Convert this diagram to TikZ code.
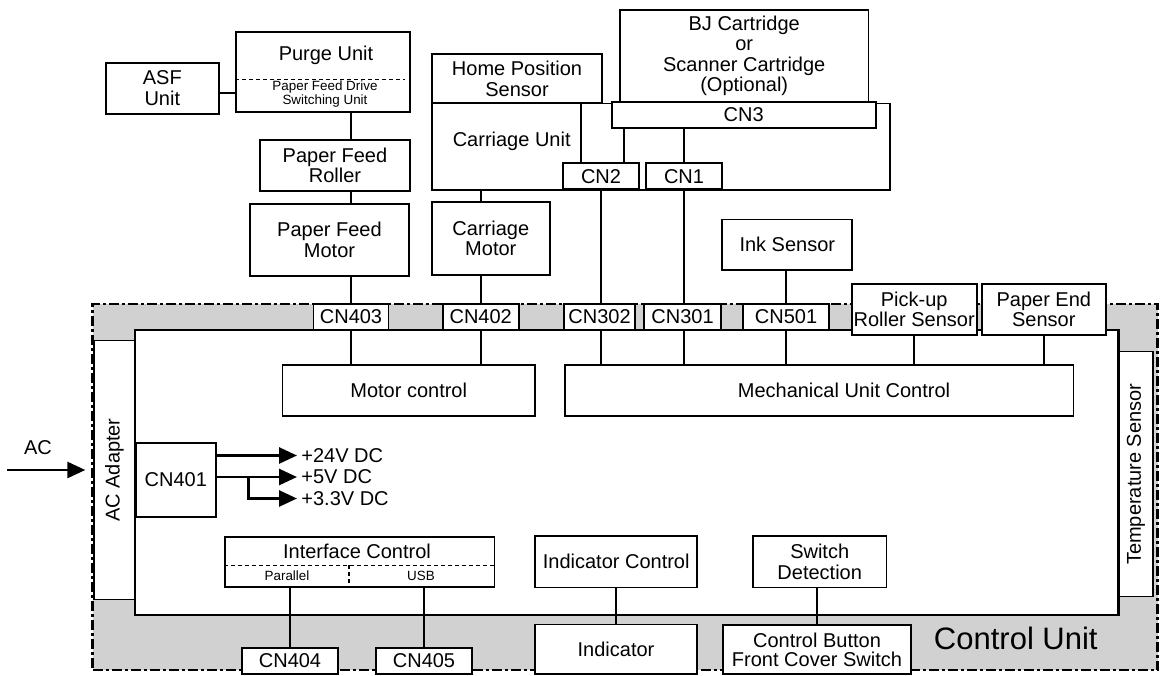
\documentclass[tikz,border=0pt]{standalone}
\usepackage{fontspec}
\setmainfont{Liberation Sans}
\usepackage{xcolor}
\usepackage{tikz}
\usetikzlibrary{arrows.meta,positioning,calc}
\definecolor{bandgray}{RGB}{209,209,209}
\newcommand{\bxfont}{\fontsize{10}{10.2}\selectfont}
\newcommand{\smfont}{\fontsize{6.7}{7}\selectfont}
\newcommand{\lgfont}{\fontsize{15.5}{18}\selectfont}
\tikzset{
  blk/.style={
    draw,
    fill=white,
    line width=0.9pt,
    align=center,
    inner sep=1pt,
    font=\bxfont
  },
  thinblk/.style={
    blk,
    line width=0.7pt
  },
  band/.style={
    draw,
    fill=bandgray,
    line width=1.4pt,
    dash pattern=on 5pt off 1.5pt on 1.5pt off 1.5pt
  },
  board/.style={
    draw,
    fill=white,
    line width=1.4pt
  },
  lbl/.style={font=\bxfont, inner sep=1pt, align=center},
  wire/.style={line width=1pt},
  sepline/.style={line width=0.7pt, dash pattern=on 2pt off 1.5pt},
  pwr/.style={line width=1.4pt, -{Triangle[length=9pt,width=8pt]}}
}

\begin{document}
\begin{tikzpicture}[x=0.5pt, y=-0.5pt]
  \useasboundingbox (0,0) rectangle (1161,675);

  % control unit frame and board
  \node[band, minimum width=532.5pt, minimum height=183pt] (cu) at (625.2,487) {};
  \node[board, minimum width=491.7pt, minimum height=142.5pt] (pcb) at (626.7,472.5) {};
  \node[thinblk, rotate=90, minimum width=129.3pt, minimum height=20.5pt] (acad) at (114.5,470) {AC Adapter};
  \node[thinblk, rotate=90, minimum width=122.5pt, minimum height=17pt] (temp) at (1136,474.2) {Temperature Sensor};
  \node[font=\lgfont] (cutxt) at (1015.8,638.3) {Control Unit};

  % paper feed side
  \node[blk, minimum width=56.7pt, minimum height=25.5pt] (asf) at (162.3,88.2) {ASF\\Unit};
  \node[blk, minimum width=87pt, minimum height=40pt] (purge) at (323,72) {};
  \node[lbl] (purgetxt) at (326,55) {Purge Unit};
  \node[lbl, font=\smfont] (pfdsw) at (325,94.3) {Paper Feed Drive\\Switching Unit};
  \node[blk, minimum width=75pt, minimum height=25.3pt] (roller) at (335,165.3) {Paper Feed\\Roller};
  \node[blk, minimum width=79.5pt, minimum height=36.2pt] (pfm) at (329.5,239.8) {Paper Feed\\Motor};

  % carriage side
  \node[blk, minimum width=229.2pt, minimum height=43.3pt] (carr) at (660.8,146.7) {};
  \node[lbl] (carrtxt) at (511.7,141.7) {Carriage Unit};
  \node[blk, minimum width=85.3pt, minimum height=24.5pt] (hps) at (517,78.8) {Home Position\\Sensor};
  \node[blk, minimum width=124.2pt, minimum height=45.8pt] (bj) at (744.2,55.8) {BJ Cartridge\\or\\Scanner Cartridge\\(Optional)};
  \node[blk, minimum width=132pt, minimum height=13pt] (cn3) at (743.7,114.7) {CN3};
  \node[blk, minimum width=38.2pt, minimum height=13pt] (cn2) at (601,176.3) {CN2};
  \node[blk, minimum width=37.8pt, minimum height=13pt] (cn1) at (684,176.3) {CN1};
  \node[blk, minimum width=59.2pt, minimum height=36.7pt] (cmot) at (490.8,238.3) {Carriage\\Motor};
  \node[blk, minimum width=65pt, minimum height=25.3pt] (ink) at (787.3,244.7) {Ink Sensor};

  % connectors on the top edge
  \node[blk, minimum width=37.5pt, minimum height=13pt] (cn403) at (351,317) {CN403};
  \node[blk, minimum width=38pt, minimum height=13pt] (cn402) at (480.7,317) {CN402};
  \node[blk, minimum width=35.8pt, minimum height=13pt] (cn302) at (599.5,317) {CN302};
  \node[blk, minimum width=38.2pt, minimum height=13pt] (cn301) at (682.5,317) {CN301};
  \node[blk, minimum width=43.3pt, minimum height=13pt] (cn501) at (786,317) {CN501};
  \node[blk, minimum width=62.5pt, minimum height=25.5pt] (pick) at (914.2,309.5) {Pick-up\\Roller Sensor};
  \node[blk, minimum width=62.2pt, minimum height=25.5pt] (pend) at (1043.8,309.5) {Paper End\\Sensor};

  % blocks on the board
  \node[blk, minimum width=126.3pt, minimum height=25.5pt] (mctl) at (408.7,390.5) {Motor control};
  \node[blk, minimum width=254.2pt, minimum height=25.5pt] (mech) at (819.2,390.5) {};
  \node[lbl] (mechtxt) at (844,390.5) {Mechanical Unit Control};
  \node[blk, minimum width=39.8pt, minimum height=37pt] (cn401) at (175.8,479.7) {CN401};
  \node[blk, minimum width=134.7pt, minimum height=25pt] (ifc) at (359.7,561.7) {};
  \node[lbl] (ifctxt) at (357,551.5) {Interface Control};
  \node[lbl, font=\smfont] (partxt) at (287,576) {Parallel};
  \node[lbl, font=\smfont] (usbtxt) at (421,576) {USB};
  \node[blk, minimum width=81pt, minimum height=25.7pt] (ictl) at (616.2,561.7) {Indicator Control};
  \node[blk, minimum width=66.7pt, minimum height=25.7pt] (swd) at (819.7,561.7) {Switch\\Detection};

  % parts on the bottom edge
  \node[blk, minimum width=48.3pt, minimum height=13.2pt] (cn404) at (290,660.8) {CN404};
  \node[blk, minimum width=48pt, minimum height=13.2pt] (cn405) at (424,660.8) {CN405};
  \node[blk, minimum width=81pt, minimum height=24.8pt] (ind) at (616,649.2) {Indicator};
  \node[blk, minimum width=94pt, minimum height=24.5pt, font=\fontsize{10}{9.5}\selectfont] (cbtn) at (817,649.5) {Control Button\\Front Cover Switch};

  % dashed dividers
  \coordinate (purgew) at ($(purge.north west)!0.59!(purge.south west)$);
  \draw[sepline, shorten >=3pt] (purgew) -- (purgew -| purge.east);
  \coordinate (ifcw) at ($(ifc.north west)!0.57!(ifc.south west)$);
  \coordinate (ifcm) at ($(ifcw)!0.46!(ifcw -| ifc.east)$);
  \draw[sepline] (ifcw) -- (ifcw -| ifc.east);
  \draw[sepline] (ifcm) -- (ifcm |- ifc.south);

  % wiring
  \coordinate (asfj) at ($(asf.north east)!0.6!(asf.south east)$);
  \draw[wire] (asfj) -- (asfj -| purge.west);
  \draw[wire] (purge.south -| cn403) -- (roller.north -| cn403);
  \draw[wire] (roller.south -| cn403) -- (pfm.north -| cn403);
  \draw[wire] (pfm.south -| cn403) -- (cn403.north);
  \draw[wire] (carr.south -| cn402) -- (cmot.north -| cn402);
  \draw[wire] (cmot.south -| cn402) -- (cn402.north);
  \coordinate (cn2a) at ($(cn2.north west)!0.25!(cn2.north east)$);
  \coordinate (cn2b) at ($(cn2.north west)!0.79!(cn2.north east)$);
  \draw[wire] (cn2a) -- (cn2a |- hps.south);
  \draw[wire] (cn2b) -- (cn2b |- cn3.south);
  \draw[wire] (cn1.north) -- (cn1.north |- cn3.south);
  \draw[wire] (cn2.south) -- (cn2.south |- cn302.north);
  \draw[wire] (cn1.south) -- (cn1.south |- cn301.north);
  \draw[wire] (ink.south -| cn501) -- (cn501.north);
  \draw[wire] (cn403.south) -- (cn403.south |- mctl.north);
  \draw[wire] (cn402.south) -- (cn402.south |- mctl.north);
  \draw[wire] (cn302.south -| cn2) -- (cn2 |- mech.north);
  \draw[wire] (cn301.south -| cn1) -- (cn1 |- mech.north);
  \draw[wire] (cn501.south) -- (cn501.south |- mech.north);
  \draw[wire] (pick.south) -- (pick.south |- mech.north);
  \draw[wire] (pend.south) -- (pend.south |- mech.north);
  \draw[wire] (ifc.south -| cn404) -- (cn404.north);
  \draw[wire] (ifc.south -| cn405) -- (cn405.north);
  \draw[wire] (ictl.south -| ind) -- (ind.north);
  \draw[wire] (swd.south -| cbtn) -- (cbtn.north);

  % power supply
  \node[lbl, anchor=west, inner sep=2pt] (v24) at (297,455.5) {+24V DC};
  \node[lbl, anchor=west, inner sep=2pt] (v5) at (297,477) {+5V DC};
  \node[lbl, anchor=west, inner sep=2pt] (v33) at (297,498.5) {+3.3V DC};
  \draw[pwr] (cn401.east |- v24.west) -- (v24.west);
  \draw[pwr] (cn401.east |- v5.west) -- (v5.west);
  \coordinate (tap) at ($(cn401.east |- v5.west)!0.4!(v5.west)$);
  \draw[pwr] (tap) -- (tap |- v33.west) -- (v33.west);
  \node[lbl] (aclbl) at (38,448) {AC};
  \coordinate (acin) at (7,470);
  \draw[pwr, shorten >=4pt] (acin) -- (acad.north);
\end{tikzpicture}
\end{document}
